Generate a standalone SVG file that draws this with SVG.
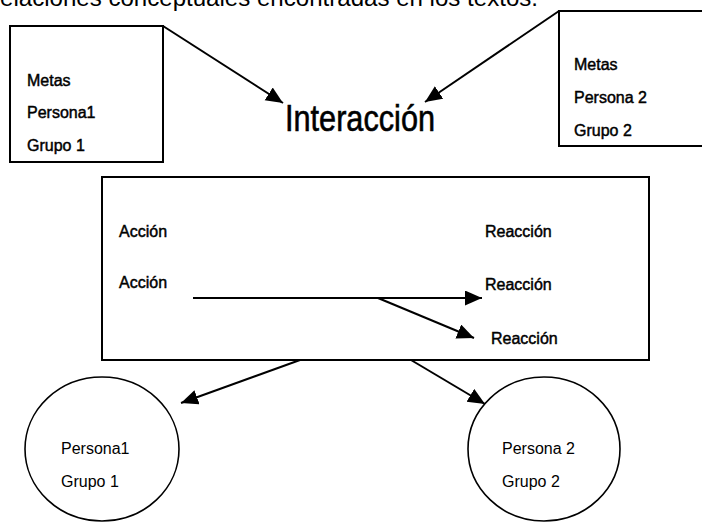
<svg xmlns="http://www.w3.org/2000/svg" width="702" height="522" viewBox="0 0 702 522">
<style>
.box{fill:#fff;stroke:#000;stroke-width:2}
.circ{fill:#fff;stroke:#000;stroke-width:1.6}
.con{fill:none;stroke:#000;stroke-width:2}
.b{font-family:"Liberation Sans",Arial,sans-serif;font-size:16px;fill:#000;stroke:#000;stroke-width:0.45}
.r{font-family:"Liberation Sans",Arial,sans-serif;font-size:16px;fill:#000}
</style>
<defs>
<marker id="ah" markerUnits="userSpaceOnUse" markerWidth="18" markerHeight="16" refX="17" refY="7.5" orient="auto">
<path d="M0,0 L17,7.5 L0,15 z" fill="#000"/>
</marker>
</defs>
<rect width="702" height="522" fill="#fff"/>
<text x="0" y="6" font-family="'Liberation Sans',Arial,sans-serif" font-size="23" textLength="538" lengthAdjust="spacingAndGlyphs" fill="#000">elaciones conceptuales encontradas en los textos.</text>
<g id="box1">
<rect class="box" x="10" y="26" width="153" height="136"/>
<text class="b" x="27" y="86">Metas</text>
<text class="b" x="27" y="118">Persona1</text>
<text class="b" x="27" y="151">Grupo 1</text>
</g>
<g id="box2">
<rect class="box" x="559" y="11" width="150" height="135"/>
<text class="b" x="574" y="70">Metas</text>
<text class="b" x="574" y="103">Persona 2</text>
<text class="b" x="574" y="136">Grupo 2</text>
</g>
<g id="interaccion">
<text x="285" y="131" font-family="'Liberation Sans Narrow','Liberation Sans',Arial,sans-serif" font-size="36" textLength="150" lengthAdjust="spacingAndGlyphs" fill="#000" stroke="#000" stroke-width="0.6">Interacción</text>
</g>
<g id="center">
<rect class="box" x="102" y="177" width="547" height="183"/>
<text class="b" x="119" y="237">Acción</text>
<text class="b" x="119" y="288">Acción</text>
<text class="b" x="485" y="237">Reacción</text>
<text class="b" x="485" y="290">Reacción</text>
<text class="b" x="491" y="344">Reacción</text>
</g>
<g id="circle1">
<ellipse class="circ" cx="102" cy="449" rx="77" ry="72"/>
<text class="r" x="61" y="454">Persona1</text>
<text class="r" x="61" y="487">Grupo 1</text>
</g>
<g id="circle2">
<ellipse class="circ" cx="544" cy="449" rx="76" ry="72"/>
<text class="r" x="502" y="454">Persona 2</text>
<text class="r" x="502" y="487">Grupo 2</text>
</g>
<g id="connectors">
<line class="con" x1="163" y1="26" x2="283" y2="103" marker-end="url(#ah)"/>
<line class="con" x1="559" y1="11" x2="425" y2="102" marker-end="url(#ah)"/>
<line class="con" x1="193" y1="298" x2="482" y2="298" marker-end="url(#ah)"/>
<line class="con" x1="378" y1="298" x2="474" y2="338" marker-end="url(#ah)"/>
<line class="con" x1="300" y1="360" x2="181" y2="403" marker-end="url(#ah)"/>
<line class="con" x1="411" y1="360" x2="485" y2="404" marker-end="url(#ah)"/>
</g>
</svg>
